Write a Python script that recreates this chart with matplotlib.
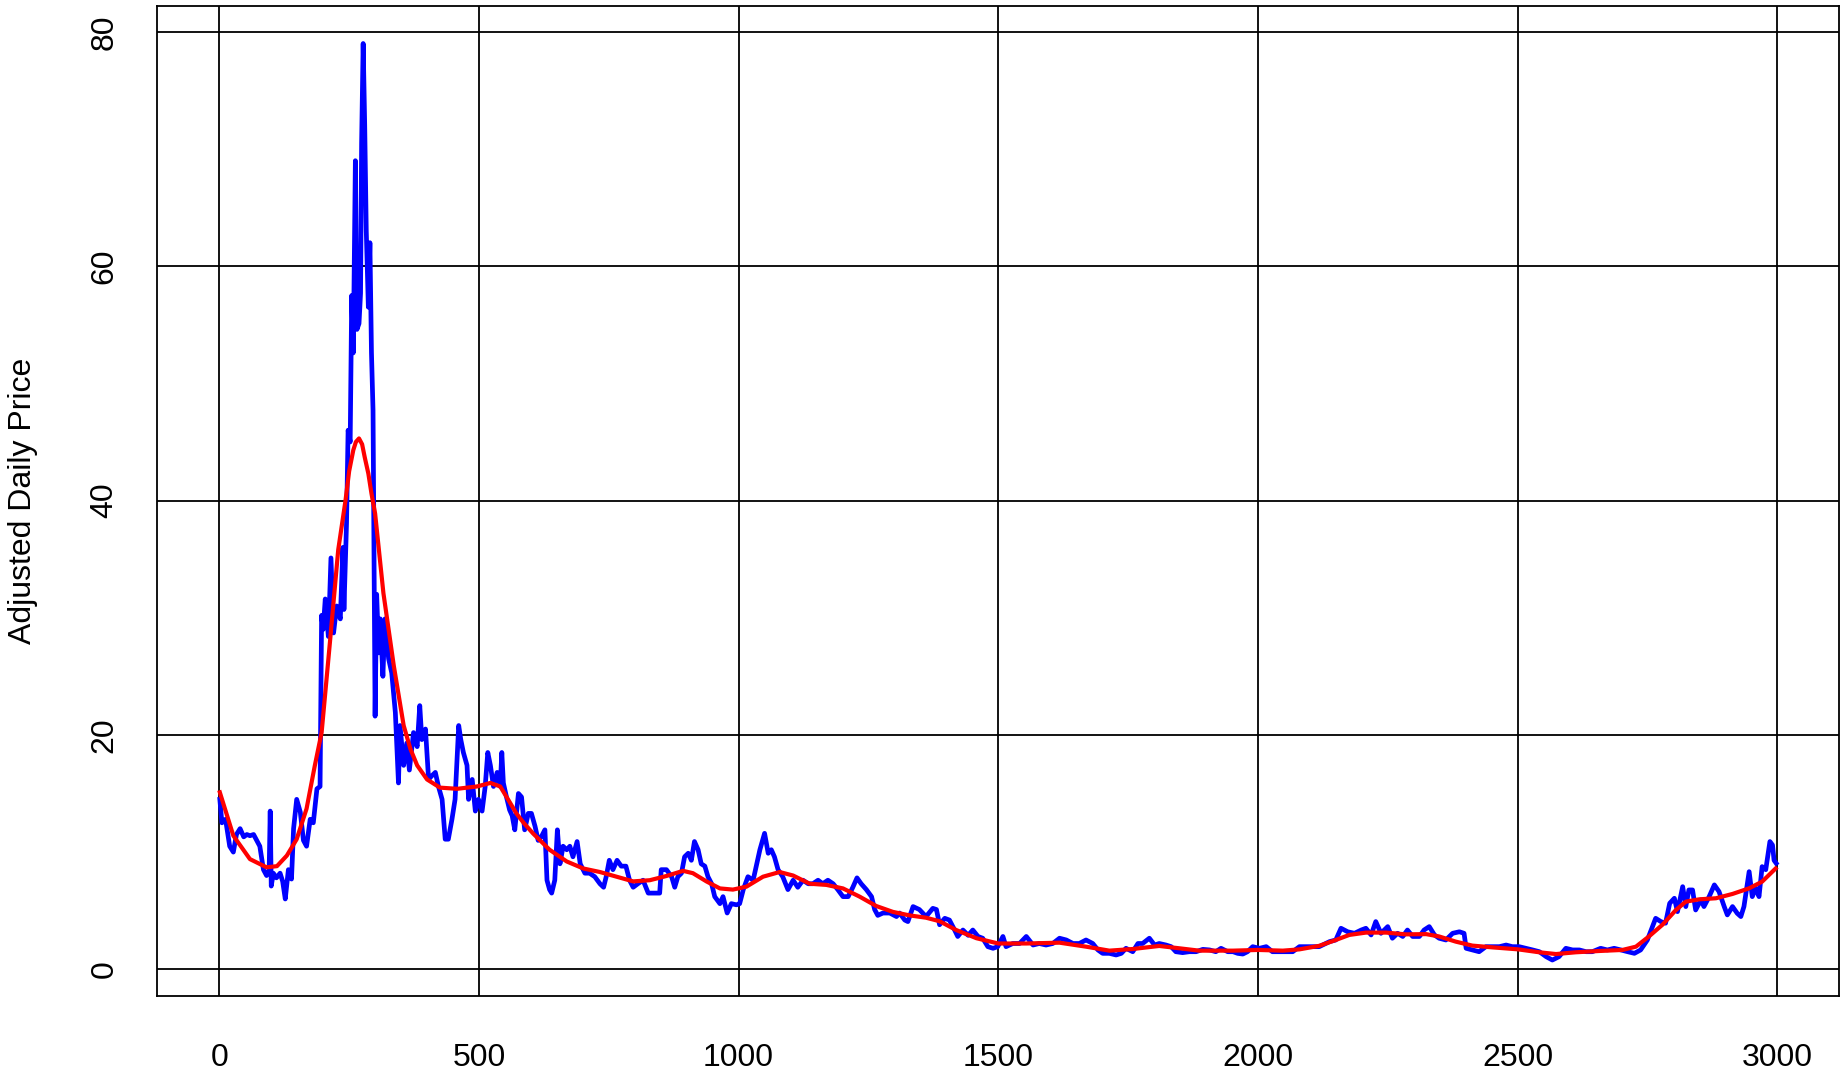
import matplotlib
matplotlib.use("Agg")
import matplotlib.pyplot as plt

# blue series: trading day index and adjusted price
day = [1, 5, 12, 20, 27, 33, 40, 47, 53, 59, 66, 72, 78, 85, 91, 96, 98, 100, 104, 110,
       117, 122, 127, 133, 139, 143, 149, 156, 162, 168, 175, 181, 188, 194, 197, 200, 204, 210, 215, 220,
       226, 233, 238, 240, 245, 248, 252, 255, 258, 262, 265, 269, 272, 274, 277, 280, 283, 287, 290, 293,
       296, 300, 303, 307, 310, 315, 319, 326, 332, 339, 345, 348, 355, 361, 366, 374, 381, 386, 390, 397,
       403, 409, 416, 422, 429, 435, 441, 448, 454, 461, 465, 470, 477, 480, 487, 493, 499, 506, 512, 517,
       522, 528, 535, 541, 544, 547, 553, 559, 564, 569, 576, 582, 588, 595, 601, 608, 614, 620, 627, 631,
       636, 640, 646, 651, 656, 662, 669, 675, 681, 689, 695, 704, 713, 723, 733, 740, 745, 751, 758, 766,
       774, 783, 790, 797, 806, 816, 826, 838, 848, 851, 861, 871, 877, 883, 890, 896, 903, 909, 915, 922,
       928, 935, 941, 948, 954, 964, 970, 978, 986, 996, 1002, 1009, 1018, 1028, 1034, 1041, 1050, 1057, 1063, 1069,
       1076, 1085, 1095, 1105, 1114, 1124, 1134, 1143, 1153, 1162, 1172, 1182, 1191, 1201, 1211, 1220, 1228, 1236, 1246, 1256,
       1262, 1268, 1278, 1291, 1304, 1310, 1320, 1326, 1336, 1348, 1361, 1374, 1381, 1387, 1397, 1406, 1416, 1422, 1432, 1442,
       1451, 1461, 1470, 1480, 1490, 1499, 1509, 1515, 1528, 1541, 1554, 1567, 1579, 1592, 1605, 1618, 1631, 1644, 1656, 1669,
       1682, 1692, 1701, 1714, 1727, 1737, 1746, 1759, 1769, 1778, 1791, 1801, 1810, 1823, 1833, 1842, 1855, 1868, 1881, 1894,
       1907, 1919, 1929, 1942, 1952, 1961, 1971, 1980, 1990, 2003, 2016, 2028, 2041, 2054, 2067, 2080, 2093, 2106, 2118, 2138,
       2150, 2160, 2173, 2186, 2199, 2208, 2218, 2227, 2237, 2250, 2259, 2269, 2279, 2288, 2298, 2311, 2320, 2330, 2340, 2349,
       2362, 2375, 2388, 2397, 2401, 2413, 2426, 2439, 2452, 2465, 2478, 2490, 2503, 2516, 2529, 2542, 2555, 2567, 2580, 2593,
       2606, 2619, 2632, 2644, 2660, 2673, 2686, 2699, 2712, 2725, 2737, 2750, 2760, 2766, 2776, 2785, 2793, 2802, 2808, 2814,
       2818, 2824, 2830, 2837, 2843, 2853, 2859, 2869, 2879, 2888, 2898, 2904, 2914, 2923, 2930, 2936, 2946, 2952, 2959, 2965,
       2971, 2978, 2986, 2991, 2994, 2998]
price = [14.5, 12.5, 12.8, 10.5, 10.0, 11.5, 12.0, 11.3, 11.5, 11.4, 11.5, 11.0, 10.5, 8.5, 8.0, 8.5, 13.5, 7.1, 8.2, 7.8,
         8.2, 7.5, 6.0, 8.5, 7.7, 12.0, 14.5, 13.4, 11.0, 10.5, 12.8, 12.5, 15.4, 15.6, 30.2, 29.0, 31.6, 28.4, 35.1, 28.7,
         31.0, 29.9, 36.0, 30.7, 38.1, 46.0, 45.0, 57.5, 52.6, 69.0, 54.6, 55.1, 57.7, 70.5, 79.0, 72.0, 63.0, 56.5, 62.0, 52.6,
         47.7, 21.6, 32.0, 27.0, 29.9, 25.0, 29.9, 26.5, 25.3, 21.9, 15.9, 20.8, 17.4, 19.3, 17.0, 20.2, 19.0, 22.5, 19.6, 20.5,
         16.2, 16.5, 16.8, 15.6, 14.5, 11.1, 11.1, 12.8, 14.5, 20.8, 19.6, 18.5, 17.4, 14.5, 16.2, 13.5, 14.5, 13.5, 15.6, 18.5,
         17.4, 15.6, 16.8, 15.6, 18.5, 15.9, 14.7, 13.6, 13.1, 11.9, 15.0, 14.7, 11.9, 13.3, 13.3, 12.2, 11.0, 11.3, 11.9, 7.6,
         6.8, 6.5, 7.6, 11.9, 9.0, 10.5, 10.2, 10.5, 9.6, 10.9, 9.0, 8.2, 8.2, 7.9, 7.3, 7.0, 7.9, 9.3, 8.5, 9.3,
         8.8, 8.8, 7.6, 7.0, 7.3, 7.6, 6.5, 6.5, 6.5, 8.5, 8.5, 7.9, 7.0, 7.9, 8.2, 9.6, 9.9, 9.3, 10.9, 10.2,
         9.0, 8.8, 7.9, 7.3, 6.2, 5.6, 6.2, 4.8, 5.6, 5.5, 5.6, 6.8, 7.9, 7.6, 8.8, 10.2, 11.6, 9.9, 10.2, 9.6,
         8.5, 7.9, 6.8, 7.6, 7.0, 7.6, 7.3, 7.3, 7.6, 7.3, 7.6, 7.3, 6.8, 6.2, 6.2, 7.0, 7.8, 7.3, 6.8, 6.2,
         5.1, 4.6, 4.8, 4.8, 4.5, 4.8, 4.2, 4.07, 5.35, 5.1, 4.5, 5.2, 5.1, 3.8, 4.35, 4.2, 3.35, 2.8, 3.35, 2.9,
         3.35, 2.8, 2.65, 1.93, 1.79, 1.93, 2.8, 1.93, 2.2, 2.2, 2.8, 2.07, 2.2, 2.07, 2.2, 2.65, 2.5, 2.2, 2.2, 2.5,
         2.2, 1.65, 1.36, 1.36, 1.22, 1.36, 1.79, 1.5, 2.2, 2.2, 2.65, 2.07, 2.2, 2.07, 1.93, 1.5, 1.42, 1.5, 1.5, 1.7,
         1.65, 1.5, 1.79, 1.5, 1.5, 1.36, 1.3, 1.5, 1.93, 1.79, 1.93, 1.5, 1.5, 1.5, 1.5, 1.93, 1.93, 1.93, 1.93, 2.36,
         2.5, 3.5, 3.2, 3.07, 3.35, 3.5, 2.93, 4.07, 3.07, 3.64, 2.65, 3.07, 2.8, 3.35, 2.8, 2.8, 3.35, 3.64, 2.93, 2.65,
         2.5, 3.07, 3.2, 3.07, 1.79, 1.65, 1.5, 1.93, 1.93, 1.93, 2.07, 1.93, 1.93, 1.79, 1.65, 1.5, 1.08, 0.79, 1.08, 1.79,
         1.65, 1.65, 1.5, 1.5, 1.79, 1.65, 1.79, 1.65, 1.5, 1.36, 1.65, 2.5, 3.64, 4.35, 4.07, 3.93, 5.63, 6.06, 4.92, 6.2,
         7.05, 5.35, 6.77, 6.77, 5.06, 5.92, 5.35, 6.2, 7.2, 6.63, 5.35, 4.64, 5.35, 4.78, 4.5, 5.35, 8.33, 6.2, 6.91, 6.2,
         8.76, 8.5, 10.9, 10.6, 9.3, 9.05]

# red smooth trend
smooth_day = [1, 27, 59, 91, 111, 130, 149, 168, 184, 197, 213, 229, 243, 250, 258, 263, 269, 275, 280, 287,
              293, 300, 316, 336, 355, 368, 381, 400, 425, 458, 496, 522, 541, 560, 572, 586, 604, 636, 669, 701,
              733, 765, 797, 829, 861, 893, 912, 938, 964, 989, 1015, 1047, 1079, 1105, 1137, 1169, 1201, 1233, 1265, 1297,
              1329, 1361, 1387, 1419, 1458, 1500, 1554, 1618, 1669, 1714, 1759, 1810, 1849, 1887, 1952, 2000, 2048, 2080, 2118, 2150,
              2176, 2208, 2247, 2285, 2324, 2349, 2381, 2413, 2452, 2501, 2542, 2574, 2612, 2657, 2702, 2728, 2753, 2779, 2805, 2824,
              2850, 2882, 2914, 2946, 2971, 2997]
smooth = [15.1, 11.4, 9.4, 8.7, 8.8, 9.7, 11.1, 13.7, 17.4, 20.2, 27.9, 35.8, 40.0, 42.5, 44.3, 45.0, 45.3, 44.8, 43.7, 42.3,
          40.6, 38.9, 32.1, 25.9, 20.8, 18.8, 17.4, 16.2, 15.5, 15.4, 15.6, 15.9, 15.6, 14.2, 13.3, 12.5, 11.6, 10.2, 9.2, 8.6,
          8.3, 7.9, 7.5, 7.6, 7.96, 8.4, 8.2, 7.5, 6.9, 6.8, 7.05, 7.9, 8.3, 8.0, 7.3, 7.2, 6.9, 6.2, 5.4, 4.9,
          4.6, 4.4, 4.1, 3.35, 2.65, 2.2, 2.2, 2.27, 1.93, 1.59, 1.73, 1.99, 1.79, 1.59, 1.59, 1.65, 1.59, 1.7, 2.0, 2.5,
          2.93, 3.13, 3.13, 2.98, 3.0, 2.8, 2.36, 2.02, 1.87, 1.7, 1.45, 1.3, 1.45, 1.56, 1.65, 1.93, 2.8, 3.8, 5.06, 5.77,
          5.97, 6.06, 6.43, 6.91, 7.48, 8.6]

x_ticks = [0, 500, 1000, 1500, 2000, 2500, 3000]
y_ticks = [0, 20, 40, 60, 80]

plt.rcParams['font.family'] = ['Liberation Sans', 'DejaVu Sans']

fig = plt.figure(figsize=(18.49, 10.72), dpi=100)
ax = fig.add_axes([157 / 1849, 1 - 996 / 1072, (1839.5 - 157) / 1849, (996 - 6) / 1072])

ax.plot(day, price, color="blue", lw=3.4, zorder=3)
ax.plot(smooth_day, smooth, color="red", lw=3.0, zorder=4)

ax.set_xlim(-120, 3120)
ax.set_ylim(-2.28, 82.2)
ax.set_xticks(x_ticks)
ax.set_yticks(y_ticks)
ax.set_xticklabels([str(v) for v in x_ticks], fontsize=23)
ax.set_yticklabels([str(v) for v in y_ticks], fontsize=23, rotation=90, va="center")
ax.tick_params(axis="both", length=0)
ax.tick_params(axis="x", pad=33.5)
ax.tick_params(axis="y", pad=27)

ax.grid(True, color="black", lw=1.3)
ax.set_axisbelow(True)
for s in ax.spines.values():
    s.set_color("black")
    s.set_linewidth(1.3)

ax.set_ylabel("Adjusted Daily Price", fontsize=23)
ax.yaxis.set_label_coords(-0.0707, 0.5)

fig.savefig("out.png", dpi=100)
